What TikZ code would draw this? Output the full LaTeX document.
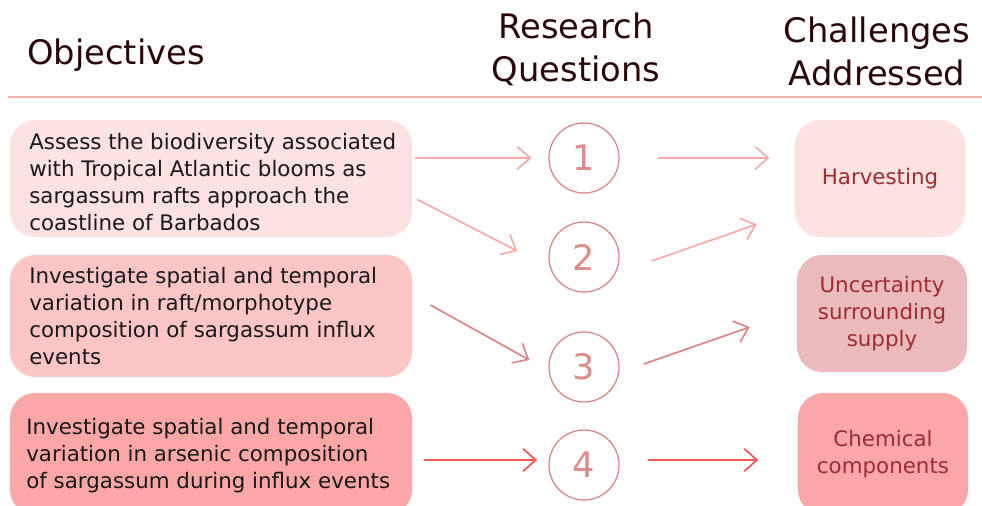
\documentclass[tikz,border=0pt]{standalone}
\usepackage{fontspec}
\setmainfont{DejaVu Sans}
\usetikzlibrary{arrows.meta,shapes.geometric}
\definecolor{headtext}{HTML}{2A0808}
\definecolor{rulepink}{HTML}{F6AEAE}
\definecolor{objA}{HTML}{FDE2E2}
\definecolor{objB}{HTML}{FDC6C6}
\definecolor{objC}{HTML}{FCA7A7}
\definecolor{chalB}{HTML}{EBBABC}
\definecolor{chaltext}{HTML}{9E2C31}
\definecolor{qline}{HTML}{DB8686}
\definecolor{qnum}{HTML}{E08A8A}
\definecolor{arrlightc}{HTML}{F8A9A9}
\definecolor{arrmidc}{HTML}{DB8585}
\definecolor{arrredc}{HTML}{F25656}

\begin{document}
\begin{tikzpicture}[x=0.025cm,y=-0.025cm,
  head/.style={align=center,font=\fontsize{24}{30.5}\selectfont,text=headtext},
  objbox/.style={rounded corners=18pt,minimum width=10.05cm,inner sep=0pt},
  objtext/.style={align=left,font=\fontsize{15.2}{19.2}\selectfont,text=black!90,anchor=west,inner sep=0pt},
  chalbox/.style={rounded corners=18pt,minimum width=4.25cm,minimum height=2.925cm,align=center,font=\fontsize{15.2}{19.2}\selectfont,text=chaltext,inner sep=0pt},
  qcirc/.style={circle,draw=qline,line width=0.9pt,minimum size=1.75cm,inner sep=0pt,font=\fontsize{25}{25}\selectfont,text=qnum},
  arr/.style={line width=1.2pt,-{Straight Barb[length=3.2mm,width=5.6mm]}}]
\clip (0,0) rectangle (982,506);
% headings
\node[head] (hobj) at (116,55) {Objectives};
\node[head] (hrq) at (576,49) {Research\\Questions};
\node[head] (hch) at (877,51) {Challenges\\Addressed};
\coordinate (rl) at (8,97);
\coordinate (rr) at (982,97);
\draw[rulepink,line width=1.6pt] (rl) -- (rr);
% objectives
\node[objbox,fill=objA,minimum height=2.925cm] (o1) at (211,178.5) {};
\node[objbox,fill=objB,minimum height=3.05cm] (o2) at (211,316) {};
\node[objbox,fill=objC,minimum height=3.05cm] (o3) at (211,454) {};
\node[objtext] (t1) at (29,182) {Assess the biodiversity associated\\with Tropical Atlantic blooms as\\sargassum rafts approach the\\coastline of Barbados};
\node[objtext] (t2) at (29,316) {Investigate spatial and temporal\\variation in raft/morphotype\\composition of sargassum influx\\events};
\node[objtext] (t3) at (26,456) {Investigate spatial and temporal\\variation in arsenic composition\\of sargassum during influx events};
% research questions
\node[qcirc] (q1) at (584,158) {1};
\node[qcirc] (q2) at (584,257) {2};
\node[qcirc] (q3) at (584,367) {3};
\node[qcirc] (q4) at (584,465) {4};
% challenges
\node[chalbox,fill=objA] (c1) at (880,178.5) {Harvesting};
\node[chalbox,fill=chalB] (c2) at (882,313.5) {Uncertainty\\surrounding\\supply};
\node[chalbox,fill=objC,minimum height=3.05cm] (c3) at (883,454) {Chemical\\components};
% arrows
\draw[arr,arrlightc,shorten <=2pt,shorten >=12pt] (o1.east |- q1) -- (q1.west);
\draw[arr,arrlightc] ([shift={(1.25mm,-5.25mm)}]o1.east) -- ([shift={(-7.75mm,1.5mm)}]q2.west);
\draw[arr,arrmidc] ([shift={(4.5mm,2.75mm)}]o2.east) -- ([shift={(-4.75mm,1.75mm)}]q3.west);
\draw[arr,arrredc,shorten <=8pt,shorten >=8pt] ([yshift=1.25mm]o3.east |- q4) -- ([yshift=1.25mm]q4.west);
\draw[arr,arrlightc,shorten <=27pt,shorten >=18pt] (q1.east) -- (q1.east -| c1.west);
\draw[arr,arrlightc] ([shift={(8mm,-1mm)}]q2.east) -- ([shift={(-9.5mm,3.25mm)}]c1.south west);
\draw[arr,arrmidc] ([shift={(6mm,0.75mm)}]q3.east) -- ([shift={(-11.75mm,-3.4mm)}]c2.west);
\draw[arr,arrredc,shorten <=20pt,shorten >=28pt] ([yshift=1.25mm]q4.east) -- ([yshift=1.25mm]q4.east -| c3.west);
\end{tikzpicture}
\end{document}
